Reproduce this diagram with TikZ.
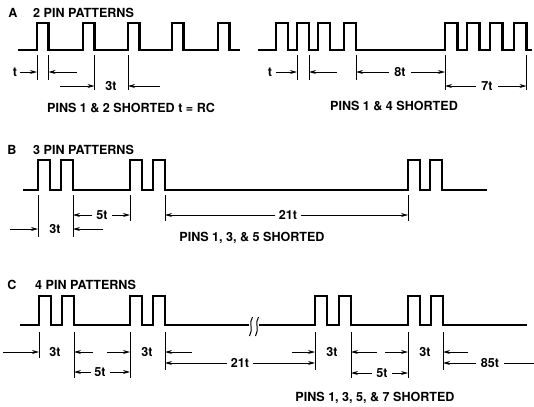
\documentclass[tikz,border=0pt]{standalone}
\usepackage{fontspec}
\setmainfont{TeX Gyre Heros}
\usetikzlibrary{arrows.meta}
\tikzset{
  wave/.style={line width=2.3bp, line join=miter},
  ext/.style={line width=0.8bp},
  dim/.style={line width=0.8bp, -{Stealth[length=7bp,width=4bp]}},
  lbl/.style={font=\fontsize{12.6}{13}\selectfont\bfseries, inner sep=1bp},
  title/.style={lbl, anchor=west},
}
\begin{document}
\begin{tikzpicture}[x=1bp,y=-1bp]
\useasboundingbox (0,0) rectangle (534,406);
% A: 2 pin patterns
\node[lbl] (lA) at (13,13) {A};
\node[title] (tA) at (32,13) {2 PIN PATTERNS};
\draw[wave] (18,50) foreach \x in {37,83,128,172,218} {-- (\x,50) -- (\x,23) -- ++(11.5,0) -- ++(0,27)} -- (240,50);
\draw[wave] (258,50) foreach \x in {276,297,318,344} {-- (\x,50) -- (\x,23) -- ++(12,0) -- ++(0,27)}
  foreach \x in {445,467,490,514} {-- (\x,50) -- (\x,23) -- ++(12.5,0) -- ++(0,27)} -- (532,50);
\foreach \x in {37,48.5,297,309,356} \draw[ext] (\x,55) -- (\x,80);
\foreach \x in {94.5,128} \draw[ext] (\x,55) -- (\x,90);
\foreach \x in {445,526.5} \draw[ext] (\x,55) -- (\x,90);
\node[lbl] (tl1) at (15,72) {t};
\draw[dim] (20,72) -- (37,72);
\draw[dim] (77,72) -- (48.5,72);
\node[lbl] (tl2) at (111,86) {3t};
\draw[dim] (60,86) -- (94.5,86);
\draw[dim] (160,86) -- (128,86);
\node[lbl] (tr1) at (270,72) {t};
\draw[dim] (276,72) -- (297,72);
\draw[dim] (337,72) -- (309,72);
\node[lbl] (tr2) at (400,72) {8t};
\draw[dim] (389,72) -- (356,72);
\draw[dim] (411,72) -- (445,72);
\node[lbl] (tr3) at (487,86) {7t};
\draw[dim] (476,86) -- (445,86);
\draw[dim] (498,86) -- (526.5,86);
\node[lbl] (pA1) at (131,108) {PINS 1 \& 2 SHORTED t = RC};
\node[lbl] (pA2) at (394,106) {PINS 1 \& 4 SHORTED};
% B: 3 pin patterns
\node[lbl] (lB) at (12,150) {B};
\node[title] (tB) at (32,150) {3 PIN PATTERNS};
\draw[wave] (23,190) foreach \x in {38,61,130,153,408,430} {-- (\x,190) -- (\x,160) -- ++(12,0) -- ++(0,30)} -- (487,190);
\foreach \x in {38,73} \draw[ext] (\x,195) -- (\x,237);
\foreach \x in {130,165,408} \draw[ext] (\x,195) -- (\x,221);
\node[lbl] (b1) at (55,229) {3t};
\draw[dim] (10,229) -- (38,229);
\draw[dim] (103,229) -- (73,229);
\node[lbl] (b2) at (102,215) {5t};
\draw[dim] (92,215) -- (73,215);
\draw[dim] (112,215) -- (130,215);
\node[lbl] (b3) at (288,215) {21t};
\draw[dim] (275,215) -- (165,215);
\draw[dim] (301,215) -- (408,215);
\node[lbl] (pB) at (252,238) {PINS 1, 3, \& 5 SHORTED};
% C: 4 pin patterns
\node[lbl] (lC) at (12,285) {C};
\node[title] (tC) at (34,285) {4 PIN PATTERNS};
\draw[wave] (20,325) foreach \x in {39,62,130,153} {-- (\x,325) -- (\x,296) -- ++(12,0) -- ++(0,29)} -- (249,325);
\draw[wave] (259,325) foreach \x in {315,339,408,431} {-- (\x,325) -- (\x,296) -- ++(12,0) -- ++(0,29)} -- (527,325);
\foreach \x in {251,257} \draw[ext, line width=1bp] (\x+1.5,317) .. controls (\x-2.5,322) and (\x+2.5,330) .. (\x-1.5,336);
\draw[ext] (39,332) -- (39,358);
\foreach \x in {74,130,351,408} \draw[ext] (\x,332) -- (\x,378);
\foreach \x in {165,315,443} \draw[ext] (\x,332) -- (\x,370);
\node[lbl] (c1) at (55,352) {3t};
\draw[dim] (3,352) -- (39,352);
\draw[dim] (93,352) -- (74,352);
\node[lbl] (c2) at (147,352) {3t};
\draw[dim] (107,352) -- (130,352);
\draw[dim] (192,352) -- (165,352);
\node[lbl] (c3) at (332,352) {3t};
\draw[dim] (292,352) -- (315,352);
\draw[dim] (377,352) -- (351,352);
\node[lbl] (c4) at (425,352) {3t};
\draw[dim] (385,352) -- (408,352);
\draw[dim] (468,352) -- (443,352);
\node[lbl] (c5) at (100,372) {5t};
\draw[dim] (91,372) -- (74,372);
\draw[dim] (110,372) -- (130,372);
\node[lbl] (c6) at (382,373) {5t};
\draw[dim] (372,373) -- (351,373);
\draw[dim] (392,373) -- (408,373);
\node[lbl] (c7) at (240,363) {21t};
\draw[dim] (227,363) -- (165,363);
\draw[dim] (253,363) -- (315,363);
\node[lbl] (c8) at (490,363) {85t};
\draw[dim] (476,363) -- (443,363);
\draw[ext] (504,363) -- (534,363);
\node[lbl] (pC) at (375,398) {PINS 1, 3, 5, \& 7 SHORTED};
\end{tikzpicture}
\end{document}
